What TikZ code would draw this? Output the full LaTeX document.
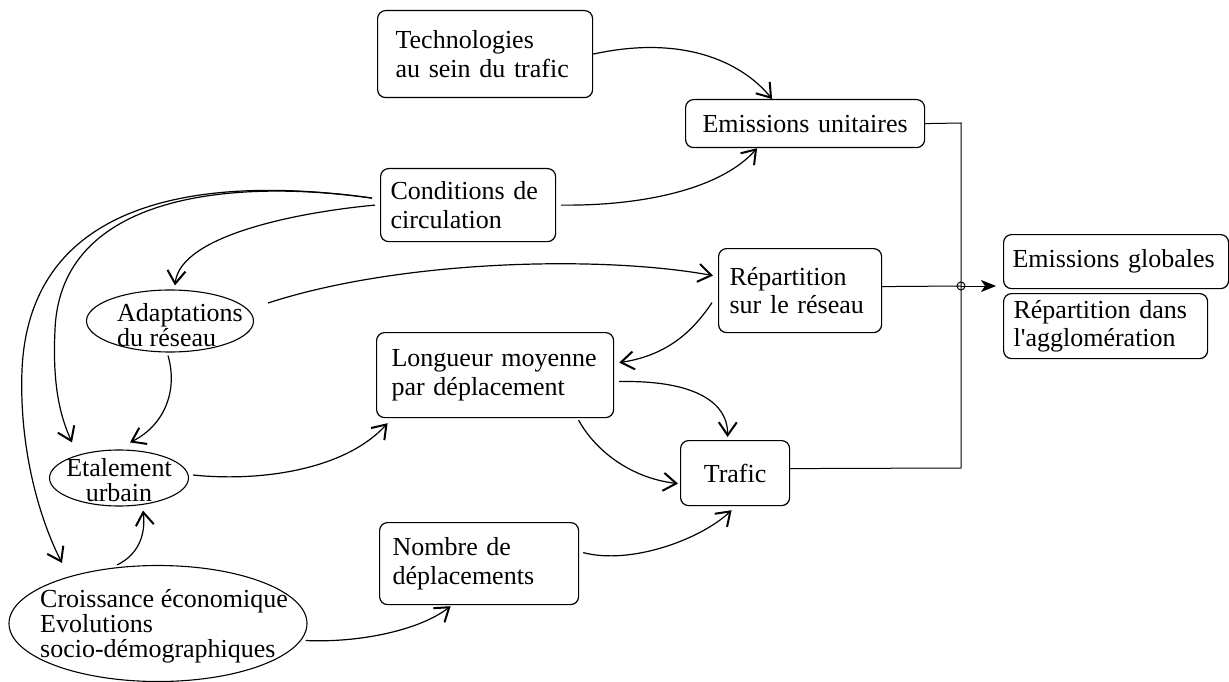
\documentclass[tikz,border=0pt]{standalone}
\usepackage{fontspec}
\setmainfont{Liberation Serif}
\usetikzlibrary{arrows.meta,calc,shapes.geometric}
\begin{document}
\begin{tikzpicture}[x=1pt,y=-1pt,
  box/.style={draw, rounded corners=8pt, line width=1.2pt, inner ysep=0pt,
    font=\fontsize{26}{28.5}\selectfont},
  ell/.style={draw, ellipse, line width=1.1pt, inner sep=0pt},
  etext/.style={inner sep=0pt, font=\fontsize{26}{25}\selectfont},
  conn/.style={line width=1.2pt, -{Straight Barb[length=13pt,width=18pt,line width=2pt]}},
  thinline/.style={line width=1pt}]
\useasboundingbox (0,0) rectangle (1229,682);

% boxes
\node[box, anchor=north west, minimum width=215pt, minimum height=87pt, inner xsep=18pt, text width=179pt, align=left] (tech) at (377,10) {Technologies\\au sein du trafic};
\node[box, anchor=north west, minimum width=239pt, minimum height=48pt, inner xsep=10pt, text width=219pt, align=center] (emu) at (685,99) {Emissions unitaires};
\node[box, anchor=north west, minimum width=175pt, minimum height=73pt, inner xsep=10pt, text width=155pt, align=left] (cond) at (380,168) {Conditions de\\circulation};
\node[box, anchor=north west, minimum width=163pt, minimum height=84pt, inner xsep=11pt, text width=141pt, align=left] (rep) at (718,248) {Répartition\\sur le réseau};
\node[box, anchor=north west, minimum width=237pt, minimum height=85pt, inner xsep=12pt, text width=213pt, align=left] (lon) at (376,332) {\hspace{3pt}Longueur moyenne\\\hspace{3pt}par déplacement};
\node[box, anchor=north west, minimum width=109pt, minimum height=65pt, inner xsep=5pt, text width=99pt, align=center] (traf) at (680,440) {Trafic};
\node[box, anchor=north west, minimum width=199pt, minimum height=82pt, inner xsep=13pt, text width=173pt, align=left] (nom) at (379,522) {Nombre de\\déplacements};
\node[box, anchor=north west, minimum width=225pt, minimum height=54pt, inner xsep=9pt, text width=207pt, align=left] (eg) at (1003,234) {Emissions globales};
\node[box, anchor=north west, minimum width=204pt, minimum height=65pt, inner xsep=10pt, text width=184pt, align=left] (ra) at (1003,293) {Répartition dans\\l\XeTeXglyph\XeTeXcharglyph"27 agglomération};

% ellipses
\node[ell, minimum width=167pt, minimum height=62pt] (adapt) at (170,321) {};
\node[etext, anchor=west, align=left] (adaptT) at (117,325) {Adaptations\\du réseau};
\node[ell, minimum width=139pt, minimum height=56pt] (etal) at (119,478) {};
\node[etext, align=center] (etalT) at (119,480) {Etalement\\urbain};
\node[ell, minimum width=298pt, minimum height=116pt] (croiss) at (158,623.5) {};
\node[etext, anchor=west, align=left] (croissT) at (40,626) {Croissance économique\\Evolutions\\socio-démographiques};

% curved connectors
\draw[conn] (tech.east) .. controls (680,35) and (740,60) .. ($(emu.north)+(-33,0)$);
\draw[conn] ($(cond.east)+(5,0)$) .. controls (640,206) and (720,190) .. ($(emu.south)+(-48,0)$);
\draw[conn] ($(cond.west)+(-5,0)$) .. controls (300,212) and (180,235) .. ($(adapt.north)+(5,-4)$);
\draw[conn] ($(cond.west)+(-8,-7)$) .. controls (230,178) and (30,185) .. (22,370) .. controls (19,450) and (40,520) .. ($(croiss.north)+(-96,-2)$);
\draw[conn] ($(cond.west)+(-8,-7)$) .. controls (230,178) and (60,195) .. (55,330) .. controls (52,390) and (62,420) .. ($(etal.north)+(-47,-7)$);
\draw[conn] ($(adapt.east)+(14,-18)$) .. controls (400,260) and (600,255) .. ($(rep.west)+(-5,-15)$);
\draw[conn] ($(adapt.south)+(-2,3)$) .. controls (178,390) and (165,425) .. ($(etal.north)+(11,-7)$);
\draw[conn] ($(croiss.north)+(-41,0)$) .. controls (138,555) and (146,535) .. ($(etal.south)+(24,4)$);
\draw[conn] ($(etal.east)+(4,-3)$) .. controls (260,482) and (345,470) .. ($(lon.south)+(-107.5,5)$);
\draw[conn] ($(croiss.east)+(-2,17)$) .. controls (360,643) and (420,630) .. ($(nom.south)+(-28.5,1)$);
\draw[conn] ($(rep.west)+(-6,12)$) .. controls (695,328) and (670,355) .. ($(lon.east)+(5,-12.5)$);
\draw[conn] ($(lon.east)+(5,6.5)$) .. controls (690,380) and (728,400) .. ($(traf.north)+(-7.5,-3)$);
\draw[conn] ($(lon.south)+(83.5,2)$) .. controls (595,450) and (630,478) .. ($(traf.west)+(-2,10.5)$);
\draw[conn] ($(nom.east)+(4,-11)$) .. controls (630,565) and (700,540) .. ($(traf.south)+(-3.5,4)$);

% collector on the right
\coordinate (vt) at (961,123);
\coordinate (vb) at (961,468);
\coordinate (jend) at (996,286);
\node[circle, draw, line width=1pt, inner sep=0pt, minimum size=8pt] (J) at (961,286) {};
\draw[thinline] (emu.east) -- (vt) -- (vb);
\draw[thinline] ($(traf.east)+(0,-4.5)$) -- (vb);
\draw[thinline] ($(rep.east)+(0,-4)$) -- (J.center);
\draw[thinline, -{Stealth[length=15pt,width=12pt,inset=4pt]}] (J.center) -- (jend);
\end{tikzpicture}
\end{document}
